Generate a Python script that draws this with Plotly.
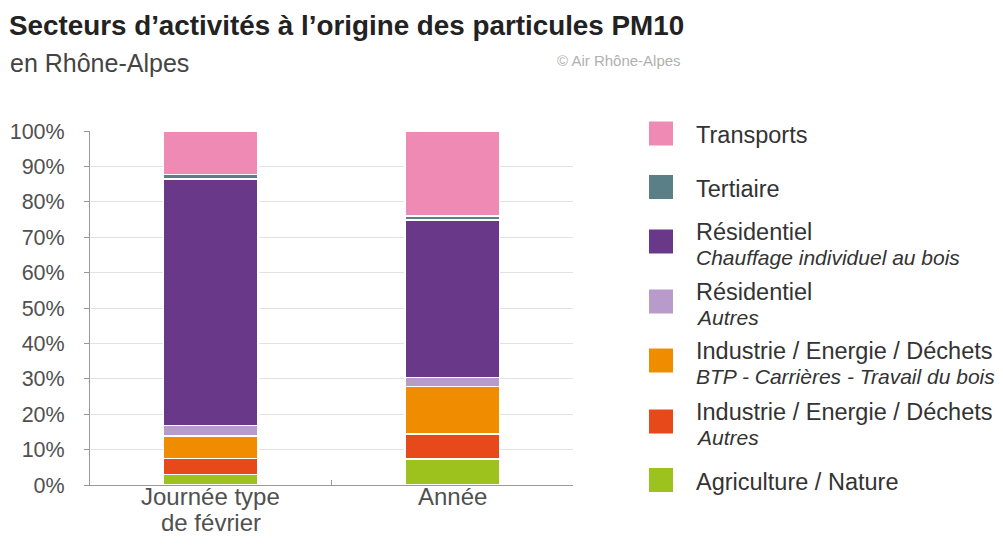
import plotly.graph_objects as go

# données (%)
categories = ["Journée type de février", "Année"]
etiquettes = [["Journée type", "de février"], ["Année"]]
secteurs = [
    "Agriculture / Nature",
    "Industrie / Energie / Déchets|Autres",
    "Industrie / Energie / Déchets|BTP - Carrières - Travail du bois",
    "Résidentiel|Autres",
    "Résidentiel|Chauffage individuel au bois",
    "Tertiaire",
    "Transports",
]
agriculture = [3.0, 7.3]
industrie_autres = [4.5, 7.1]
industrie_btp = [6.4, 13.4]
residentiel_autres = [2.9, 2.6]
residentiel_bois = [69.7, 44.5]
tertiaire = [1.2, 1.1]
transports = [12.3, 24.0]

valeurs = [agriculture, industrie_autres, industrie_btp, residentiel_autres,
           residentiel_bois, tertiaire, transports]
couleurs = ["#9dc21e", "#e8491b", "#f08c00", "#b89bcb", "#693889", "#5a7f86", "#ee8ab4"]

# zone de tracé (pixels de la page) ; la page ajoute 8px de marge au body
L, R, T, B = 90, 573, 131, 485
OFF = 8
W_FIG, H_FIG = 1003 - OFF, 545 - OFF

def px_x(x):
    return (x - L) / (R - L)

def px_y(y):
    return (B - y) / (B - T)

FONT = "Liberation Sans, Arial, sans-serif"
GRIS = "#505050"

fig = go.Figure()
for nom, vals, coul in zip(secteurs, valeurs, couleurs):
    fig.add_trace(go.Bar(
        x=categories, y=vals, name=nom.replace("|", " - "),
        marker=dict(color=coul, line=dict(color="white", width=1.5)),
        width=0.39, showlegend=False,
    ))

# étiquettes des catégories (interligne serré comme sur l'original)
for cat, lignes in zip(categories, etiquettes):
    for i, txt in enumerate(lignes):
        fig.add_annotation(x=cat, y=px_y(497 + 25.5 * i), xref="x", yref="paper",
                           text=txt, showarrow=False, yanchor="middle", borderpad=0,
                           font=dict(family=FONT, size=24, color=GRIS))

# légende faite à la main (pastilles + textes)
legende_y = [480, 421.5, 360.5, 301.5, 241.5, 187, 133.5]
for nom, coul, yc in zip(secteurs, couleurs, legende_y):
    fig.add_shape(type="rect", xref="paper", yref="paper",
                  x0=px_x(649), x1=px_x(673), y0=px_y(yc + 12), y1=px_y(yc - 12),
                  fillcolor=coul, line=dict(width=0))
    if "|" in nom:
        l1, l2 = nom.split("|")
        lignes = [(l1, yc - 9.5, 23.5, False), (l2, yc + 16, 21, True)]
    else:
        lignes = [(nom, yc + 1.5, 23.5, False)]
    for txt, yy, taille, ital in lignes:
        fig.add_annotation(x=px_x(697), y=px_y(yy), xref="paper", yref="paper",
                           text=f"<i>{txt}</i>" if ital else txt,
                           showarrow=False, xanchor="left", yanchor="middle",
                           xshift=-2, borderpad=0,
                           font=dict(family=FONT, size=taille, color="#333"))

# titres
fig.add_annotation(x=px_x(8), y=px_y(25), xref="paper", yref="paper",
                   text="<b>Secteurs d’activités à l’origine des particules PM10</b>",
                   showarrow=False, xanchor="left", yanchor="middle", borderpad=0,
                   font=dict(family=FONT, size=27.8, color="#222"))
fig.add_annotation(x=px_x(8), y=px_y(63), xref="paper", yref="paper",
                   text="en Rhône-Alpes", showarrow=False, xanchor="left", yanchor="middle",
                   font=dict(family=FONT, size=25, color="#444"))
fig.add_annotation(x=px_x(683), y=px_y(60), xref="paper", yref="paper",
                   text="© Air Rhône-Alpes", showarrow=False, xanchor="right", yanchor="middle",
                   font=dict(family=FONT, size=15, color="#b0b0b0"))

fig.update_layout(
    barmode="stack",
    width=W_FIG, height=H_FIG,
    margin=dict(l=L - OFF, r=W_FIG - (R - OFF), t=T - OFF, b=H_FIG - (B - OFF)),
    plot_bgcolor="white", paper_bgcolor="white",
    font=dict(family=FONT, size=22, color=GRIS),
    xaxis=dict(range=[-0.5, 1.5], showline=True, linecolor="#999", linewidth=1,
               ticks="inside", ticklen=5, tickcolor="#999", tickson="boundaries",
               showticklabels=False, showgrid=False, automargin=False),
    yaxis=dict(range=[0, 100], dtick=10, ticksuffix="%", showline=True,
               linecolor="#999", linewidth=1, ticks="outside", ticklen=5,
               tickcolor="#999", gridcolor="#e2e2e2", gridwidth=1,
               ticklabelstandoff=15, automargin=False,
               tickfont=dict(size=21.5, color=GRIS), zeroline=False),
)

fig.write_html("out.html")
